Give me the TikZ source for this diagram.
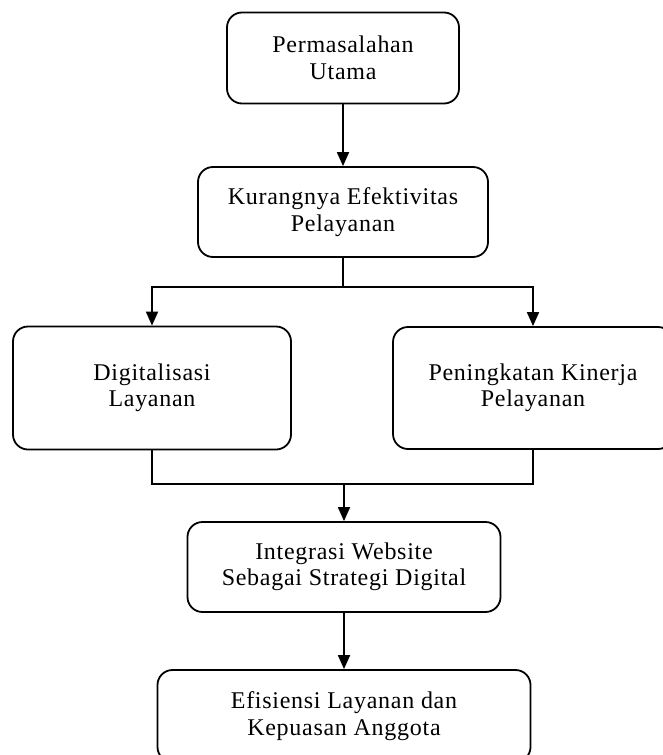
\documentclass[tikz,border=0pt]{standalone}
\usepackage{fontspec}
\setmainfont[LetterSpace=3]{Liberation Serif}
\usepackage{tikz}
\usetikzlibrary{arrows.meta}

\begin{document}
\begin{tikzpicture}[x=1pt,y=-1pt,line width=1.8pt,
  box/.style = {draw, rounded corners=15pt, align=center, inner sep=0pt,
    font=\fontsize{24}{26.5}\selectfont},
  >={Triangle[width=12pt,length=14pt]}]
\useasboundingbox (0,0) rectangle (662,755);
\node[box, minimum width=232pt, minimum height=91pt] (M) at (343,58) {Permasalahan\\Utama};
\node[box, minimum width=290pt, minimum height=90pt] (K) at (343,212) {Kurangnya Efektivitas\\Pelayanan};
\node[box, minimum width=278pt, minimum height=123pt] (D) at (152,388) {Digitalisasi\\Layanan};
\node[box, minimum width=280pt, minimum height=122pt] (P) at (533,388) {Peningkatan Kinerja\\Pelayanan};
\node[box, minimum width=313pt, minimum height=90pt] (I) at (344,567) {Integrasi Website\\Sebagai Strategi Digital};
\node[box, minimum width=373pt, minimum height=92pt] (E) at (344,716) {Efisiensi Layanan dan\\Kepuasan Anggota};
\coordinate (s) at (343,287);
\coordinate (j) at (344,484);
\draw[->] (M) -- (K);
\draw (K) -- (s);
\draw[->] (s) -- (s -| D) -- (D);
\draw[->] (s) -- (s -| P) -- (P);
\draw (D) -- (j -| D) -- (j -| P) -- (P);
\draw[->] (j) -- (I);
\draw[->] (I) -- (E);
\end{tikzpicture}
\end{document}
